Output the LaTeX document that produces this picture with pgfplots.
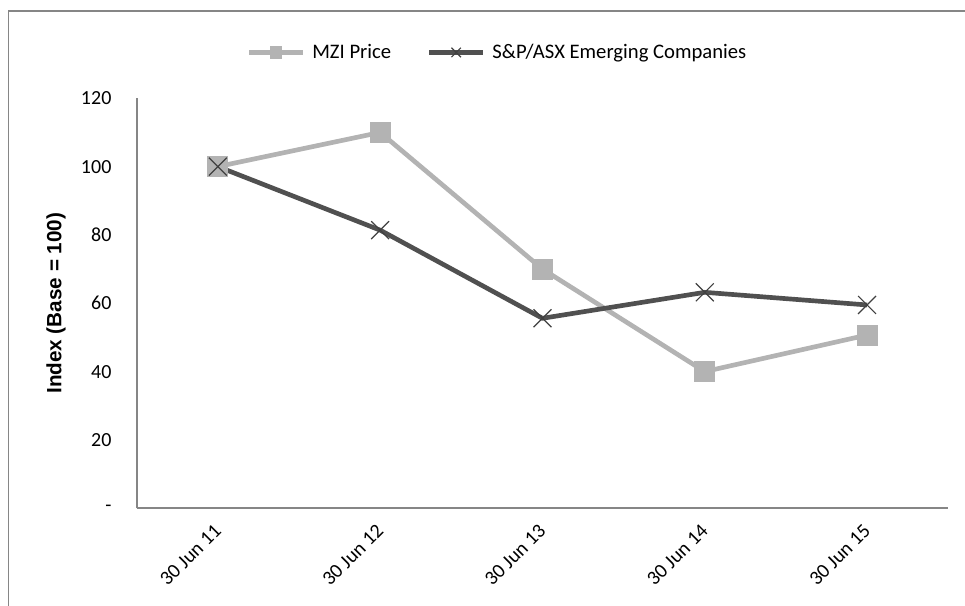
\documentclass[border=0pt]{standalone}
\usepackage{fontspec}
\setmainfont{Carlito}
\newfontfamily\arialfont{Liberation Sans}
\usepackage{pgfplots}
\pgfplotsset{compat=1.18}
\definecolor{mzi}{HTML}{B3B3B3}
\definecolor{asx}{HTML}{505050}
\definecolor{asxm}{HTML}{404040}
\definecolor{frame}{HTML}{868686}
\begin{document}
\begin{tikzpicture}
\fontsize{15.5}{18}\selectfont
\path[use as bounding box] (0,0) rectangle (723.75pt,454.5pt);
\draw[frame, line width=1.3pt] (6.4pt,-5pt) -- (6.4pt,446.2pt) -- (730pt,446.2pt);
\begin{axis}[
  at={(102.5pt,73.3pt)}, anchor=south west,
  scale only axis, width=608.7pt, height=307.5pt,
  xmin=-0.5, xmax=4.5, ymin=0, ymax=120,
  axis x line*=bottom, axis y line*=left,
  axis line style={frame, line width=1.5pt, -},
  xtick={0,1,2,3,4},
  xticklabels={30 Jun 11,30 Jun 12,30 Jun 13,30 Jun 14,30 Jun 15},
  ytick={0,20,40,60,80,100,120},
  yticklabels={-,20,40,60,80,100,120},
  major tick length=0pt,
  tick label style={font=\fontsize{15}{18}\selectfont, inner sep=0pt},
  /pgf/number format/assume math mode=true,
  yticklabel style={anchor=east, xshift=-18.75pt},
  xticklabel style={yshift=-14.5pt, rotate=45, anchor=east},
  ylabel={\arialfont\bfseries Index (Base = 100)},
  ylabel style={font=\fontsize{15.5}{18}\selectfont, at={(axis description cs:-0.0994,0.5)}, anchor=center},
  legend columns=2,
  legend style={at={(0.1359,1.1117)}, anchor=west, draw=none, fill=none,
    inner sep=0pt, outer sep=0pt,
    font=\fontsize{15.5}{18}\selectfont,
    nodes={inner sep=0pt},
    /tikz/every odd column/.append style={column sep=5.5pt},
    /tikz/every even column/.append style={column sep=27pt}},
  legend image code/.code={
    \draw[#1, mark=none] (0pt,0pt) -- (40pt,0pt);
    \draw[#1, only marks] plot coordinates {(20pt,0pt)};
  },
  clip=false,
]
\addplot[mzi, line width=3.5pt, mark=square*, mark size=7.5pt, mark options={fill=mzi, draw=mzi, line width=0pt},
  every legend image post/.append style={mark size=4.3pt}]
  coordinates {(0,100) (1,110) (2,70) (3,40) (4,50.7)};
\addlegendentry{MZI Price}
\addplot[asx, line width=3.5pt, mark=x, mark size=9.5pt, mark options={draw=asxm, line width=0.9pt},
  every legend image post/.append style={mark size=5pt}]
  coordinates {(0,100) (1,81.4) (2,55.6) (3,63.2) (4,59.5)};
\addlegendentry{S\&P/ASX Emerging Companies}
\end{axis}
\end{tikzpicture}
\end{document}
